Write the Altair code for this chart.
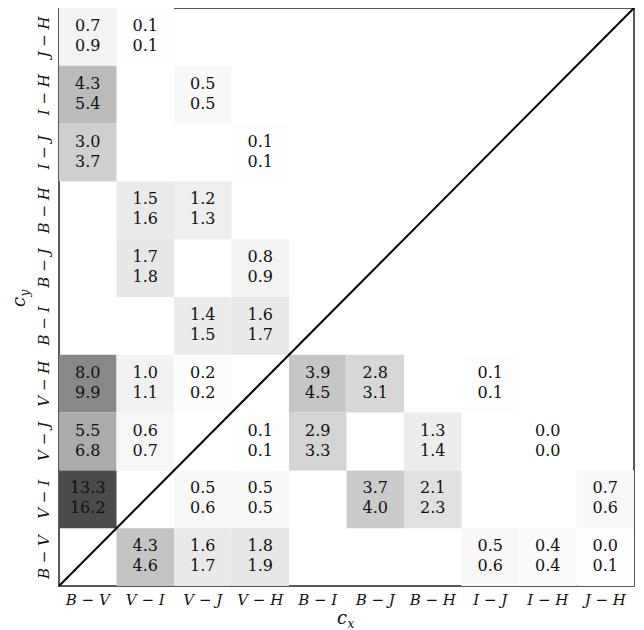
import altair as alt
import pandas as pd

labels = ["B − V", "V − I", "V − J", "V − H", "B − I", "B − J", "B − H", "I − J", "I − H", "J − H"]

cell_x = ["B − V", "V − I",
          "B − V", "V − J",
          "B − V", "V − H",
          "V − I", "V − J",
          "V − I", "V − H",
          "V − J", "V − H",
          "B − V", "V − I", "V − J", "B − I", "B − J", "I − J",
          "B − V", "V − I", "V − H", "B − I", "B − H", "I − H",
          "B − V", "V − J", "V − H", "B − J", "B − H", "J − H",
          "V − I", "V − J", "V − H", "I − J", "I − H", "J − H"]
cell_y = ["J − H", "J − H",
          "I − H", "I − H",
          "I − J", "I − J",
          "B − H", "B − H",
          "B − J", "B − J",
          "B − I", "B − I",
          "V − H", "V − H", "V − H", "V − H", "V − H", "V − H",
          "V − J", "V − J", "V − J", "V − J", "V − J", "V − J",
          "V − I", "V − I", "V − I", "V − I", "V − I", "V − I",
          "B − V", "B − V", "B − V", "B − V", "B − V", "B − V"]
top_vals = [0.7, 0.1,
            4.3, 0.5,
            3.0, 0.1,
            1.5, 1.2,
            1.7, 0.8,
            1.4, 1.6,
            8.0, 1.0, 0.2, 3.9, 2.8, 0.1,
            5.5, 0.6, 0.1, 2.9, 1.3, 0.0,
            13.3, 0.5, 0.5, 3.7, 2.1, 0.7,
            4.3, 1.6, 1.8, 0.5, 0.4, 0.0]
bottom_vals = [0.9, 0.1,
               5.4, 0.5,
               3.7, 0.1,
               1.6, 1.3,
               1.8, 0.9,
               1.5, 1.7,
               9.9, 1.1, 0.2, 4.5, 3.1, 0.1,
               6.8, 0.7, 0.1, 3.3, 1.4, 0.0,
               16.2, 0.6, 0.5, 4.0, 2.3, 0.6,
               4.6, 1.7, 1.9, 0.6, 0.4, 0.1]

df = pd.DataFrame({"cx": cell_x, "cy": cell_y, "top": top_vals, "bottom": bottom_vals})

W, H = 575, 578
SERIF = "DejaVu Serif"
FS = 16

xenc = alt.X("cx:N", scale=alt.Scale(domain=labels, paddingInner=0, paddingOuter=0),
             axis=alt.Axis(title=None, ticks=False, domain=False, grid=False,
                           labelFont=SERIF, labelFontStyle="italic", labelFontSize=15,
                           labelColor="#111", labelAngle=0, labelPadding=6))
yenc = alt.Y("cy:N", scale=alt.Scale(domain=labels[::-1], paddingInner=0, paddingOuter=0),
             axis=alt.Axis(title=None, ticks=False, domain=False, grid=False,
                           labelFont=SERIF, labelFontStyle="italic", labelFontSize=15,
                           labelColor="#111", labelAngle=270, labelAlign="center",
                           labelBaseline="bottom", labelPadding=8))

base = alt.Chart(df).encode(x=xenc, y=yenc)

rect = base.mark_rect().encode(
    color=alt.Color("bottom:Q",
                    scale=alt.Scale(domain=[0, 3.7, 9.9, 16.2],
                                    range=["#ffffff", "#cfcfcf", "#888888", "#4b4b4b"]),
                    legend=None)
)

t_top = base.mark_text(font=SERIF, fontSize=FS, baseline="alphabetic", dy=-6, color="#111").encode(
    text=alt.Text("top:Q", format=".1f"))
t_bot = base.mark_text(font=SERIF, fontSize=FS, baseline="alphabetic", dy=14, color="#111").encode(
    text=alt.Text("bottom:Q", format=".1f"))

dummy = pd.DataFrame({"a": [0]})
diag = alt.Chart(dummy).mark_rule(color="black", strokeWidth=2).encode(
    x=alt.value(0), x2=alt.value(W), y=alt.value(H), y2=alt.value(0))

cx_c = alt.Chart(dummy).mark_text(text="c", font=SERIF, fontStyle="italic", fontSize=18,
                                  baseline="alphabetic", color="#111").encode(
    x=alt.value(283), y=alt.value(616))
cx_s = alt.Chart(dummy).mark_text(text="x", font=SERIF, fontStyle="italic", fontSize=12,
                                  baseline="alphabetic", color="#111").encode(
    x=alt.value(292), y=alt.value(620))
cy_c = alt.Chart(dummy).mark_text(text="c", font=SERIF, fontStyle="italic", fontSize=18,
                                  baseline="alphabetic", angle=270, color="#111").encode(
    x=alt.value(-34), y=alt.value(294))
cy_s = alt.Chart(dummy).mark_text(text="y", font=SERIF, fontStyle="italic", fontSize=12,
                                  baseline="alphabetic", angle=270, color="#111").encode(
    x=alt.value(-30), y=alt.value(285))

chart = alt.layer(rect, t_top, t_bot, diag, cx_c, cx_s, cy_c, cy_s).properties(
    width=W, height=H,
    autosize=alt.AutoSizeParams(type="none"),
    padding={"left": 51, "top": 0, "right": 2, "bottom": 44},
).configure_view(stroke="#222", strokeWidth=1.5)

chart.save("out.html", embed_options={"renderer": "svg", "actions": False})
